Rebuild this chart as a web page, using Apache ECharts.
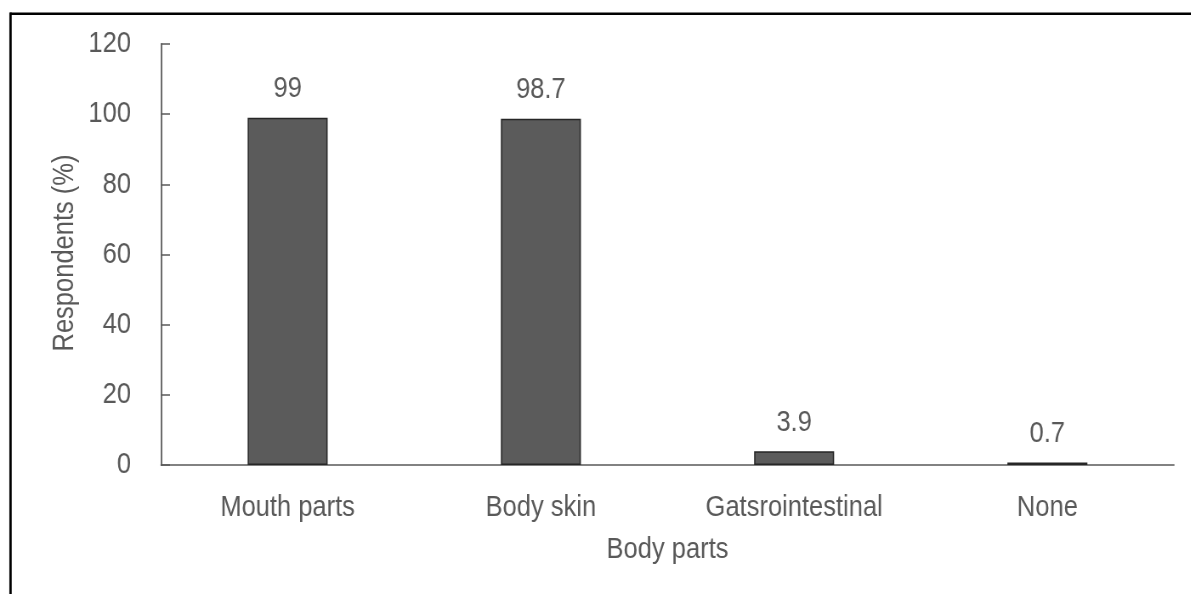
<!DOCTYPE html>
<html>
<head>
<meta charset="utf-8">
<script src="https://cdn.jsdelivr.net/npm/echarts@6/dist/echarts.min.js"></script>
<style>
html,body{margin:0;padding:0;background:#fff;overflow:hidden;width:1191px;height:594px;}
#c{width:1401.2px;height:594px;transform:scaleX(0.85);transform-origin:0 0;}
</style>
</head>
<body>
<div id="c"></div>
<script>
var categories = ['Mouth parts', 'Body skin', 'Gatsrointestinal', 'None'];
var values = [99, 98.7, 3.9, 0.7];
var yTicks = [0, 20, 40, 60, 80, 100, 120];

var S = 0.85;                 // horizontal condensing (Arial Narrow look)
var FONT = '"Liberation Sans", Arial, sans-serif';
var FS = 30;
var TXT = '#595959';
var W = 1191 / S;
var chart = echarts.init(document.getElementById('c'), null, {renderer: 'canvas', width: W, height: 594});
chart.setOption({
  backgroundColor: '#fff',
  animation: false,
  graphic: [
    {type: 'line', shape: {x1: 10 / S, y1: 13.8, x2: W, y2: 13.8}, style: {stroke: '#000', lineWidth: 2.4}},
    {type: 'line', shape: {x1: 10.5 / S, y1: 12.6, x2: 10.5 / S, y2: 594}, style: {stroke: '#000', lineWidth: 2.4 / S}},
    {type: 'text', x: 65 / S, y: 253, rotation: Math.PI / 2, scaleX: S, scaleY: 1 / S,
      style: {text: 'Respondents (%)', fontSize: FS, fontFamily: FONT, fill: TXT, align: 'center', verticalAlign: 'middle'}}
  ],
  grid: {left: 161 / S, right: W - 1174 / S, top: 44, bottom: 129, containLabel: false, outerBoundsMode: 'none'},
  xAxis: {
    type: 'category',
    data: categories,
    name: 'Body parts',
    nameLocation: 'middle',
    nameGap: 70,
    nameTextStyle: {color: TXT, fontSize: FS, fontFamily: FONT},
    axisLine: {show: true, lineStyle: {color: '#595959', width: 1.5}},
    axisTick: {show: false},
    axisLabel: {color: TXT, fontSize: FS, fontFamily: FONT, margin: 27.5, interval: 0}
  },
  yAxis: {
    type: 'value',
    min: yTicks[0],
    max: yTicks[yTicks.length - 1],
    interval: yTicks[1] - yTicks[0],
    splitLine: {show: false},
    axisLine: {show: true, lineStyle: {color: '#595959', width: 1.5 / S}},
    axisTick: {show: true, inside: true, length: 9 / S, lineStyle: {color: '#595959', width: 1.5}},
    axisLabel: {color: TXT, fontSize: FS, fontFamily: FONT, margin: 30 / S}
  },
  series: [{
    type: 'bar',
    data: values,
    barWidth: 80 / S,
    itemStyle: {color: '#5b5b5b', borderColor: '#262626', borderWidth: 1.5},
    label: {show: true, position: 'top', distance: 13.5, color: TXT, fontSize: FS, fontFamily: FONT}
  }]
});
</script>
</body>
</html>
